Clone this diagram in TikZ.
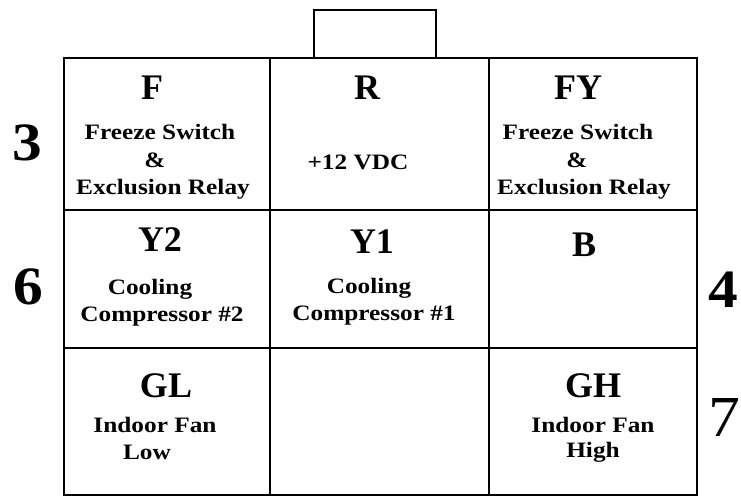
\documentclass[tikz,border=0pt]{standalone}
\usepackage{fontspec}
\setmainfont{Liberation Serif}
\newfontfamily\widefont[FakeStretch=1.15]{Liberation Serif}
\newfontfamily\numfont[FakeStretch=1.1]{Liberation Serif}
\begin{document}
\begin{tikzpicture}[x=1pt,y=-1pt,
  frame/.style={draw=black,line width=2pt},
  big/.style={font=\fontsize{36}{36}\selectfont\bfseries,inner sep=0pt},
  small/.style={font=\widefont\fontsize{22}{22}\selectfont\bfseries,inner sep=0pt},
  num/.style={font=\numfont\fontsize{54}{54}\selectfont\bfseries,inner sep=0pt},
  numr/.style={font=\numfont\fontsize{58}{58}\selectfont,inner sep=0pt}]
\useasboundingbox (0,0) rectangle (741,496);
% key tab
\draw[frame] (314,58) -- (314,10) -- (436,10) -- (436,58);
% outer frame and grid
\draw[frame] (64,58) rectangle (697,495);
\draw[frame] (270,58) -- (270,495);
\draw[frame] (489,58) -- (489,495);
\draw[frame] (64,210) -- (697,210);
\draw[frame] (64,348) -- (697,348);
% row 1
\node[big] (F) at (152,88) {F};
\node[small] (F1) at (160,132) {Freeze Switch};
\node[small] (F2) at (155,160) {\&};
\node[small] (F3) at (163,189) {Exclusion Relay};
\node[big] (R) at (367,88) {R};
\node[small] (R1) at (358,162) {+12 VDC};
\node[big] (FY) at (578,88) {FY};
\node[small] (FY1) at (578,132) {Freeze Switch};
\node[small] (FY2) at (577,160) {\&};
\node[small] (FY3) at (584,189) {Exclusion Relay};
% row 2
\node[big] (Y2) at (160,240) {Y2};
\node[small] (Y21) at (150,289) {Cooling};
\node[small] (Y22) at (162,317) {Compressor \#2};
\node[big] (Y1) at (372,242) {Y1};
\node[small] (Y11) at (369,288) {Cooling};
\node[small] (Y12) at (374,316) {Compressor \#1};
\node[big] (B) at (584,245) {B};
% row 3
\node[big] (GL) at (166,386) {GL};
\node[small] (GL1) at (155,425) {Indoor Fan};
\node[small] (GL2) at (147,452) {Low};
\node[big] (GH) at (593,386) {GH};
\node[small] (GH1) at (593,425) {Indoor Fan};
\node[small] (GH2) at (593,452) {High};
% side numbers
\node[num] (n3) at (27,143) {3};
\node[num] (n6) at (28,287) {6};
\node[num] (n4) at (723,290) {4};
\node[numr] (n7) at (724,418) {7};
\end{tikzpicture}
\end{document}
